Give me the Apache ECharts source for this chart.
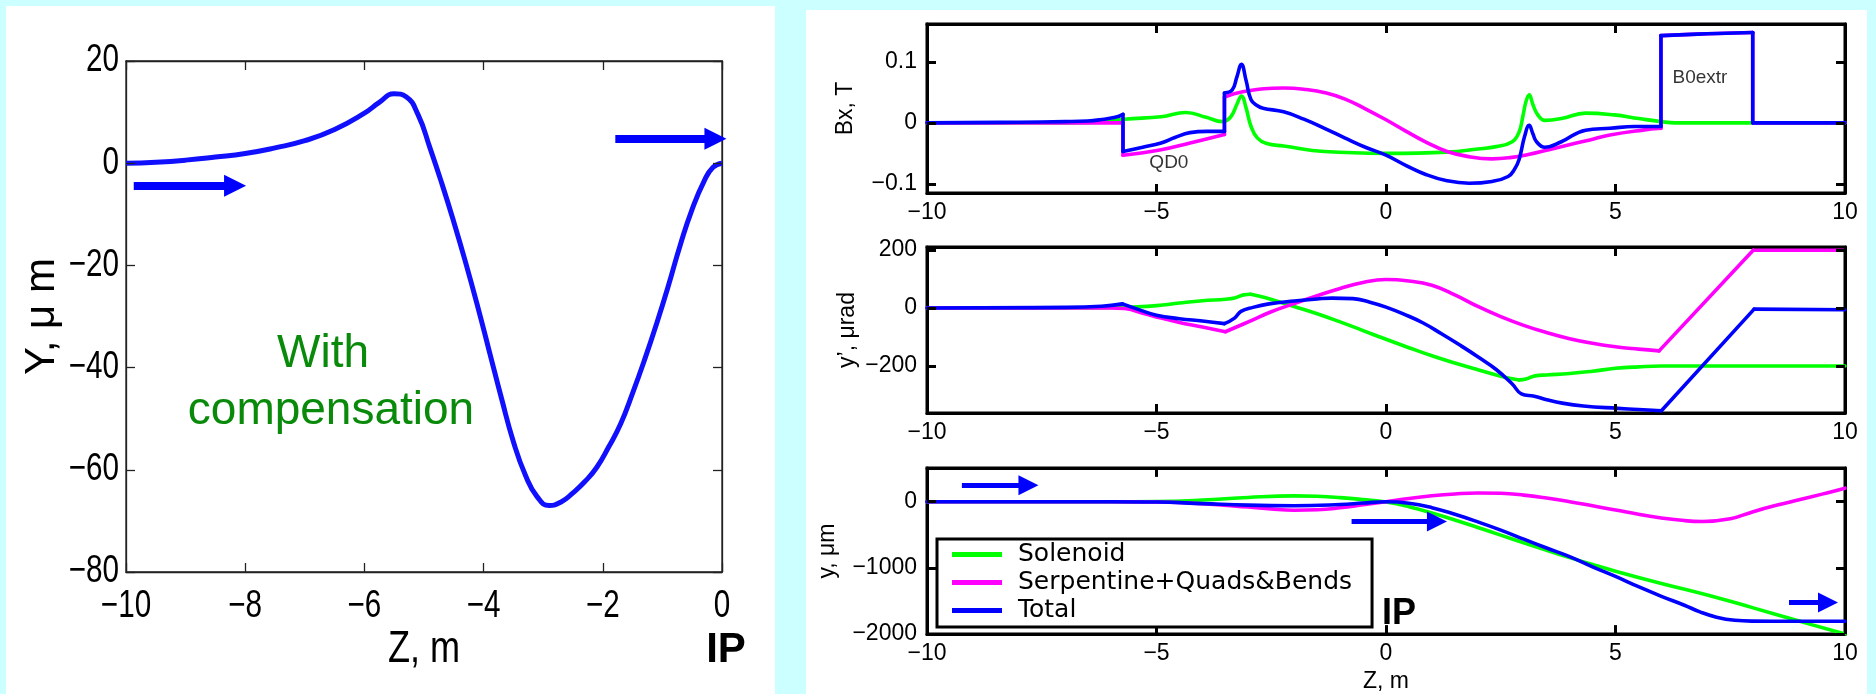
<!DOCTYPE html>
<html>
<head>
<meta charset="utf-8">
<script src="https://cdn.jsdelivr.net/npm/echarts@6/dist/echarts.min.js"></script>
<style>
  html, body { margin: 0; padding: 0; background: #ccffff; }
  #wrap { position: relative; width: 1876px; height: 694px; overflow: hidden; }
  .panel { position: absolute; background: #ffffff; }
  #c { position: absolute; left: 0; top: 0; width: 1876px; height: 694px; }
</style>
</head>
<body>
<div id="wrap">
  <div class="panel" style="left:6px;top:6px;width:769px;height:688px;"></div>
  <div class="panel" style="left:806px;top:10px;width:1061px;height:684px;"></div>
  <div id="c"></div>
</div>
<script>
// ---- Vertical orbit with compensation (left panel), Z in m, Y in µm ----
const orbitZ = [-10, -9.5, -9, -8.5, -8, -7.5, -7, -6.5, -6, -5.75, -5.5, -5.3, -5.1, -4.9, -4.7, -4.5,
  -4.3, -4.1, -3.9, -3.7, -3.5, -3.3, -3.1, -2.9, -2.7, -2.5, -2.3, -2.1, -1.9, -1.7, -1.5, -1.3,
  -1.1, -0.9, -0.7, -0.5, -0.3, -0.15, 0];
const orbitY = [0, 0.2, 0.6, 1.2, 1.9, 3, 4.4, 6.6, 9.8, 11.9, 13.6, 13, 9.5, 3, -4, -11.5,
  -19.5, -28, -37, -46, -54.5, -61, -65.3, -67, -66.3, -64.5, -62.3, -59.5, -55.5, -51, -45, -38.5,
  -31.5, -24, -16, -9, -3.5, -0.8, 0];
const leftXTicks = { min: -10, max: 0, step: 2 };
const leftYTicks = { min: -80, max: 20, step: 20 };

// ---- Bx, T ----
const bxSolenoid = [[-10,0],[-7,0],[-6.2,0.001],[-5.7,0.006],[-4.9,0.010],[-4.36,0.017],[-3.92,0.009],
  [-3.56,0.002],[-3.38,0.010],[-3.25,0.03],[-3.15,0.044],[-3.05,0.025],[-2.94,-0.006],[-2.8,-0.025],
  [-2.6,-0.034],[-2.23,-0.038],[-1.34,-0.047],[0,-0.05],[1.33,-0.048],[2,-0.043],[2.4,-0.039],
  [2.75,-0.031],[2.9,-0.015],[2.98,0.01],[3.05,0.035],[3.12,0.046],[3.2,0.03],[3.3,0.014],[3.46,0.004],
  [3.82,0.007],[4.35,0.016],[4.97,0.013],[5.51,0.007],[5.99,0.002],[6.3,0],[10,0]];
const bxSerpentine = [[-10,0],[-5.73,0],[-5.73,-0.053],[-4.9,-0.044],[-4.27,-0.033],[-3.52,-0.019],
  [-3.52,0.042],[-3.12,0.051],[-2.23,0.057],[-1.79,0.055],[-1.3,0.049],[-0.89,0.039],[-0.45,0.023],
  [0,0.005],[0.44,-0.014],[0.88,-0.032],[1.33,-0.047],[1.77,-0.055],[2.31,-0.059],[2.7,-0.057],
  [3.1,-0.052],[3.55,-0.044],[3.99,-0.036],[4.44,-0.028],[4.88,-0.020],[5.59,-0.012],[5.99,-0.009],
  [5.99,0.143],[7,0.146],[7.99,0.148],[7.99,0],[10,0]];
const bxTotal = [[-10,0],[-8,0.001],[-7,0.002],[-6.5,0.003],[-6.23,0.005],[-5.9,0.009],[-5.73,0.014],
  [-5.73,-0.047],[-5.3,-0.040],[-4.9,-0.033],[-4.6,-0.024],[-4.27,-0.016],[-3.9,-0.014],[-3.52,-0.014],
  [-3.52,0.049],[-3.35,0.054],[-3.25,0.075],[-3.15,0.096],[-3.05,0.07],[-2.94,0.038],[-2.8,0.028],
  [-2.68,0.024],[-2.23,0.018],[-1.79,0.006],[-1.34,-0.009],[-0.89,-0.025],[-0.45,-0.040],[0,-0.053],
  [0.44,-0.070],[0.88,-0.085],[1.33,-0.095],[1.81,-0.099],[2.31,-0.096],[2.66,-0.088],[2.8,-0.076],
  [2.9,-0.06],[3.02,-0.022],[3.12,-0.004],[3.2,-0.018],[3.28,-0.031],[3.46,-0.04],[3.82,-0.031],
  [4.35,-0.012],[4.88,-0.009],[5.42,-0.006],[5.99,-0.006],[5.99,0.143],[7,0.146],[7.99,0.148],[7.99,0],[10,0]];
const bxCorners = [-5.73, -3.52, 5.99, 7.99];
const bxNotes = [{ name: 'QD0', value: [-4.73, -0.066] }, { name: 'B0extr', value: [6.84, 0.074] }];

// ---- y', µrad ----
const ypSolenoid = [[-10,0],[-7,0],[-6,1],[-5.6,3],[-5,8],[-4.5,17],[-4,25],[-3.5,30],[-3.3,34],[-3.1,45],
  [-2.95,47],[-2.8,42],[-2.55,32],[-2,5],[-1.5,-20],[-1,-48],[-0.5,-78],[0,-108],[0.5,-137],[1,-165],
  [1.5,-190],[2,-213],[2.5,-235],[2.9,-248],[3.05,-245],[3.25,-234],[3.5,-231],[4,-226],[4.5,-218],
  [5,-208],[5.5,-203],[6,-200],[10,-200]];
const ypSolenoidCorners = [-2.95, 2.9];
const ypSerpentine = [[-10,0],[-6,0],[-5.7,-2],[-5.3,-18],[-4.9,-35],[-4.5,-50],[-4,-66],[-3.5,-82],
  [-3,-48],[-2.5,-13],[-2,15],[-1.5,42],[-1,67],[-0.5,88],[0,98],[0.5,93],[1,78],[1.5,45],[2,5],
  [2.5,-30],[3,-60],[3.5,-85],[4,-106],[4.5,-122],[5,-134],[5.5,-142],[5.95,-148],[8,199],[10,199]];
const ypSerpentineCorners = [-3.5, 5.95, 8];
const ypTotal = [[-10,0],[-7,2],[-6.2,6],[-5.74,14],[-5.4,-5],[-5,-25],[-4.5,-37],[-4,-45],[-3.52,-54],
  [-3.3,-35],[-3.16,-12],[-2.9,2],[-2.55,14],[-2,24],[-1.5,31],[-1.18,34],[-0.72,32],[-0.35,20],[0,3],
  [0.4,-22],[0.8,-51],[1.2,-88],[1.6,-127],[2,-168],[2.4,-212],[2.75,-262],[2.95,-296],[3.23,-304],
  [3.5,-316],[3.84,-328],[4.3,-338],[5.05,-346],[5.5,-350],[6,-354],[8.02,-4],[10,-6]];
const ypTotalCorners = [-5.74, -3.52, 6, 8.02];

// ---- y, µm ----
const ySolenoid = [[-10,0],[-6,0],[-5,3],[-4,25],[-3,65],[-2,88],[-1.5,82],[-1,62],[-0.5,32],[0,-5],
  [0.5,-75],[1,-170],[1.5,-275],[2,-390],[2.5,-505],[3,-620],[3.5,-735],[4,-845],[4.5,-950],[5,-1050],
  [6,-1235],[7,-1410],[8,-1605],[9,-1805],[10,-2000]];
const ySerpentine = [[-10,0],[-6,0],[-5,-5],[-4,-30],[-3,-80],[-2.5,-110],[-2,-128],[-1.5,-122],[-1,-92],
  [-0.5,-47],[0,0],[0.5,50],[1,90],[1.5,118],[2,133],[2.5,128],[3,100],[3.5,55],[4,0],[4.5,-62],
  [5,-125],[5.5,-190],[6,-245],[6.5,-285],[6.9,-298],[7.5,-258],[8,-150],[8.5,-55],[9,30],[9.5,115],[10,205]];
const yTotal = [[-10,0],[-6,0],[-5,-5],[-4,-28],[-3,-52],[-2,-60],[-1,-42],[-0.5,-20],[0,0],[0.5,-22],
  [1,-90],[1.5,-190],[2,-305],[2.5,-430],[3,-565],[3.5,-700],[4,-830],[4.5,-985],[5,-1130],[5.5,-1285],
  [6,-1430],[6.5,-1565],[6.84,-1665],[7.2,-1745],[7.6,-1793],[8,-1805],[10,-1808]];

// beam direction arrows [start, symbol centre] in data units
const orbitArrows = [[[-9.87, -4.4], [-8.17, -4.4]], [[-1.79, 4.8], [-0.11, 4.8]]];
const yArrows = [[[-9.24, 250], [-7.79, 250]], [[-0.75, -300], [1.11, -300]], [[8.78, -1525], [9.63, -1525]]];

// tick values for the right-hand axes
const zTicks = { min: -10, max: 10, step: 5 };
const bxRange = [-0.115, 0.162];
const ypRange = [-362, 210];
const yRange = [-2000, 510];
const bxTicks = [-0.1, 0, 0.1];
const ypTicks = [-200, 0, 200];
const yTicks = [-2000, -1000, 0];

const seriesNames = ['Solenoid', 'Serpentine+Quads&Bends', 'Total'];
const seriesColors = ['#00ff00', '#ff00ff', '#0000ff'];

const FONT_SANS = '"Liberation Sans", Arial, Helvetica, sans-serif';
const FONT_LEGEND = '"DejaVu Sans", "Liberation Sans", sans-serif';

const withMinus = v => String(v).replace('-', '\u2212');
const stepValues = t => { const out = []; for (let v = t.min; v <= t.max + 1e-9; v += t.step) out.push(v); return out; };

// one grid = bottom/left axes with labels + top/right axes closing the box
function makeAxes(gridIndex, dim, cfg) {
  const base = {
    type: 'value', gridIndex: gridIndex, min: cfg.min, max: cfg.max,
    axisLine: { show: true, onZero: false, lineStyle: { color: cfg.color, width: cfg.lineWidth } },
    splitLine: { show: false }, axisTick: { show: false }
  };
  if (cfg.step) base.interval = cfg.step;
  const label = {
    show: cfg.labels !== false, margin: cfg.margin, color: '#000', fontFamily: cfg.font, fontSize: cfg.fontSize,
    formatter: cfg.formatter || withMinus
  };
  if (cfg.custom) label.customValues = cfg.custom;
  const main = Object.assign({}, base, {
    position: dim === 'x' ? 'bottom' : 'left',
    axisLabel: label
  });
  if (cfg.name) {
    Object.assign(main, {
      name: cfg.name, nameLocation: 'middle', nameGap: cfg.nameGap,
      nameTextStyle: { fontFamily: cfg.font, fontSize: cfg.nameSize, color: '#000' }
    });
  }
  const mirror = Object.assign({}, base, {
    position: dim === 'x' ? 'top' : 'right',
    axisLabel: { show: false }
  });
  return [main, mirror];
}

const grids = [
  { left: 126, top: 61, width: 596, height: 511, show: true, borderColor: '#222', borderWidth: 1.3, backgroundColor: 'transparent' },
  { left: 927, top: 24, width: 918, height: 169, show: true, borderColor: '#000', borderWidth: 3, backgroundColor: 'transparent' },
  { left: 927, top: 247, width: 918, height: 166, show: true, borderColor: '#000', borderWidth: 3, backgroundColor: 'transparent' },
  { left: 927, top: 468, width: 918, height: 168, show: true, borderColor: '#000', borderWidth: 3, backgroundColor: 'transparent' }
];

const leftStyle = { color: '#222', lineWidth: 1.3, font: FONT_SANS, fontSize: 37, nameSize: 42, labels: false };
const rightStyle = { color: '#000', lineWidth: 3, font: FONT_SANS, fontSize: 23, nameSize: 23 };

const xAxes = [].concat(
  makeAxes(0, 'x', Object.assign({}, leftStyle, { min: leftXTicks.min, max: leftXTicks.max, step: leftXTicks.step, margin: 16 })),
  makeAxes(1, 'x', Object.assign({}, rightStyle, { min: zTicks.min, max: zTicks.max, step: zTicks.step, margin: 8 })),
  makeAxes(2, 'x', Object.assign({}, rightStyle, { min: zTicks.min, max: zTicks.max, step: zTicks.step, margin: 8 })),
  makeAxes(3, 'x', Object.assign({}, rightStyle, { min: zTicks.min, max: zTicks.max, step: zTicks.step, margin: 8, name: 'Z, m', nameGap: 36 }))
);
const yAxes = [].concat(
  makeAxes(0, 'y', Object.assign({}, leftStyle, { min: leftYTicks.min, max: leftYTicks.max, step: leftYTicks.step, margin: 8, name: 'Y, \u03bc m', nameGap: 63 })),
  makeAxes(1, 'y', Object.assign({}, rightStyle, { min: bxRange[0], max: bxRange[1], custom: bxTicks, margin: 10, name: 'Bx, T', nameGap: 70,
    formatter: v => (Math.abs(v) < 1e-9 ? '0' : withMinus(Number(v).toFixed(1))) })),
  makeAxes(2, 'y', Object.assign({}, rightStyle, { min: ypRange[0], max: ypRange[1], custom: ypTicks, margin: 10, name: 'y\u2019, \u03bcrad', nameGap: 68 })),
  makeAxes(3, 'y', Object.assign({}, rightStyle, { min: yRange[0], max: yRange[1], custom: yTicks, margin: 10, name: 'y, \u03bcm', nameGap: 88 }))
);

// break a curve at its corner points so that smoothing never rounds a step or a kink
function splitAtCorners(points, corners) {
  const pieces = [];
  let cur = [];
  points.forEach((p, i) => {
    cur.push(p);
    const isCorner = corners.some(c => Math.abs(c - p[0]) < 1e-9);
    if (isCorner && i > 0 && i < points.length - 1 && cur.length > 1) {
      pieces.push(cur);
      cur = [p];
    }
  });
  if (cur.length > 1) pieces.push(cur);
  return pieces;
}

function curve(name, data, color, axisIdx, width, corners) {
  return splitAtCorners(data, corners || []).map(piece => ({
    type: 'line', name: name, data: piece, xAxisIndex: axisIdx, yAxisIndex: axisIdx,
    showSymbol: false, symbol: 'none', smooth: 0.45,
    lineStyle: { color: color, width: width, cap: 'round', join: 'round' }, itemStyle: { color: color },
    emphasis: { disabled: true }, z: 3
  }));
}

function arrows(list, axisIdx, width, head) {
  return {
    type: 'lines', coordinateSystem: 'cartesian2d', xAxisIndex: axisIdx, yAxisIndex: axisIdx,
    clip: false, symbol: ['none', 'triangle'], symbolSize: head,
    lineStyle: { color: '#0000ff', width: width, opacity: 1, curveness: 0 },
    itemStyle: { color: '#0000ff' },
    data: list.map(p => ({ coords: p })), z: 5, silent: true
  };
}

// inward tick marks on all four sides of a box, as short segments in data units
function boxTicks(axisIdx, grid, xVals, yVals, xExt, yExt, lenPx, color, width) {
  const dx = lenPx / grid.width * (xExt[1] - xExt[0]);
  const dy = lenPx / grid.height * (yExt[1] - yExt[0]);
  const segs = [];
  xVals.forEach(v => {
    segs.push({ coords: [[v, yExt[0]], [v, yExt[0] + dy]] });
    segs.push({ coords: [[v, yExt[1]], [v, yExt[1] - dy]] });
  });
  yVals.forEach(v => {
    segs.push({ coords: [[xExt[0], v], [xExt[0] + dx, v]] });
    segs.push({ coords: [[xExt[1], v], [xExt[1] - dx, v]] });
  });
  return {
    type: 'lines', coordinateSystem: 'cartesian2d', xAxisIndex: axisIdx, yAxisIndex: axisIdx,
    clip: false, symbol: 'none', silent: true, z: 6,
    lineStyle: { color: color, width: width, opacity: 1, curveness: 0, cap: 'butt' },
    data: segs
  };
}

const zVals = stepValues(zTicks);
const zExt = [zTicks.min, zTicks.max];

const series = [].concat(
  [{
    type: 'line', name: 'orbit', xAxisIndex: 0, yAxisIndex: 0,
    data: orbitZ.map((z, i) => [z, orbitY[i]]),
    showSymbol: false, symbol: 'none', smooth: 0.5,
    lineStyle: { color: '#1010ff', width: 5 }, itemStyle: { color: '#1010ff' }, z: 3
  },
  arrows(orbitArrows, 0, 8, [22, 22]),
  boxTicks(0, grids[0], stepValues(leftXTicks), stepValues(leftYTicks),
    [leftXTicks.min, leftXTicks.max], [leftYTicks.min, leftYTicks.max], 9, '#222', 1.3),
  boxTicks(2, grids[1], zVals, bxTicks, zExt, bxRange, 9, '#000', 3),
  boxTicks(4, grids[2], zVals, ypTicks, zExt, ypRange, 9, '#000', 3),
  boxTicks(6, grids[3], zVals, yTicks, zExt, yRange, 9, '#000', 3)],
  // right column: axis pair 2 = Bx, 4 = y', 6 = y
  curve(seriesNames[0], bxSolenoid, seriesColors[0], 2, 3.6),
  curve(seriesNames[1], bxSerpentine, seriesColors[1], 2, 3.6, bxCorners),
  curve(seriesNames[2], bxTotal, seriesColors[2], 2, 3.6, bxCorners),
  [{
    type: 'scatter', xAxisIndex: 2, yAxisIndex: 2, data: bxNotes, symbolSize: 1,
    itemStyle: { color: 'rgba(0,0,0,0)' }, silent: true,
    label: { show: true, position: 'inside', formatter: p => p.name, color: '#000',
      fontFamily: FONT_SANS, fontSize: 19 }
  }],
  curve(seriesNames[0], ypSolenoid, seriesColors[0], 4, 3.6, ypSolenoidCorners),
  curve(seriesNames[1], ypSerpentine, seriesColors[1], 4, 3.6, ypSerpentineCorners),
  curve(seriesNames[2], ypTotal, seriesColors[2], 4, 3.6, ypTotalCorners),
  curve(seriesNames[0], ySolenoid, seriesColors[0], 6, 3.6),
  curve(seriesNames[1], ySerpentine, seriesColors[1], 6, 3.6),
  curve(seriesNames[2], yTotal, seriesColors[2], 6, 3.6),
  [arrows(yArrows, 6, 5, [13, 20])]
);

const textStyle = (text, font, fill, extra) => Object.assign({
  text: text, font: font, fill: fill,
  align: 'center', verticalAlign: 'middle', textAlign: 'center', textVerticalAlign: 'middle'
}, extra || {});

const baseGraphic = [
  { type: 'text', x: 323, y: 354, z: 10, style: textStyle('With', '46px "Liberation Sans", Arial, sans-serif', '#0a8a0a') },
  { type: 'text', x: 331, y: 411, z: 10, style: textStyle('compensation', '46px "Liberation Sans", Arial, sans-serif', '#0a8a0a') },
  { type: 'text', x: 726, y: 650, z: 10, style: textStyle('IP', 'bold 42px "Liberation Sans", Arial, sans-serif', '#000') },
  { type: 'text', x: 1399, y: 614, z: 10, style: textStyle('IP', 'bold 36px "Liberation Sans", Arial, sans-serif', '#000') }
];

const option = {
  animation: false,
  backgroundColor: 'transparent',
  grid: grids,
  xAxis: xAxes,
  yAxis: yAxes,
  legend: {
    data: seriesNames, orient: 'vertical', left: 937, top: 539,
    padding: [3, 20, 4, 15], itemGap: 3, itemWidth: 50, itemHeight: 5, icon: 'rect',
    backgroundColor: '#ffffff', borderColor: '#000', borderWidth: 3, borderRadius: 0,
    selectedMode: false, z: 10,
    textStyle: { fontFamily: FONT_LEGEND, fontSize: 25, color: '#000', padding: [0, 0, 0, 11] }
  },
  graphic: { elements: baseGraphic },
  series: series
};

const chart = echarts.init(document.getElementById('c'), null, { renderer: 'canvas', width: 1876, height: 694 });
chart.setOption(option);

// left panel tick labels in a condensed face, placed through the axis scales
const extra = [];
const toX = (axis, v) => chart.convertToPixel({ xAxisIndex: axis }, v);
const toY = (axis, v) => chart.convertToPixel({ yAxisIndex: axis }, v);
const narrowFont = '38px "Liberation Sans", Arial, sans-serif';
const squeeze = 0.78;
const plotBottom = toY(0, leftYTicks.min);
const plotLeft = toX(0, leftXTicks.min);
const plotRight = toX(0, leftXTicks.max);
stepValues(leftXTicks).forEach(v => {
  extra.push({ type: 'text', z: 10, x: toX(0, v), y: plotBottom + 35,
    scaleX: squeeze, style: textStyle(withMinus(v), narrowFont, '#000') });
});
stepValues(leftYTicks).forEach(v => {
  extra.push({ type: 'text', z: 10, x: plotLeft - 7, y: toY(0, v),
    scaleX: squeeze, style: textStyle(withMinus(v), narrowFont, '#000', { align: 'right', textAlign: 'right' }) });
});
extra.push({ type: 'text', z: 10, x: (plotLeft + plotRight) / 2, y: plotBottom + 78,
  scaleX: 0.82, style: textStyle('Z, m', '44px "Liberation Sans", Arial, sans-serif', '#000') });

chart.setOption({ graphic: { elements: baseGraphic.concat(extra) } });
</script>
</body>
</html>
